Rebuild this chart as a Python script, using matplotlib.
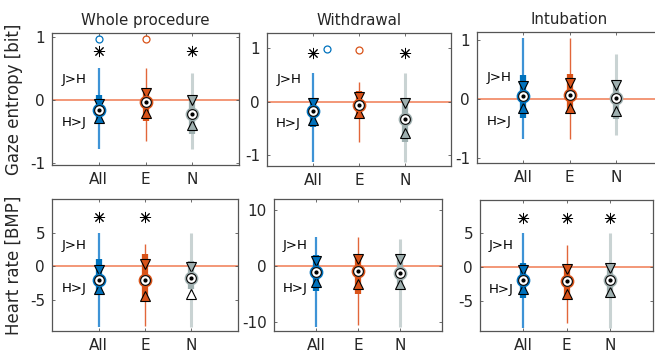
import matplotlib
matplotlib.use("Agg")
import matplotlib.pyplot as plt

# groups and colours
groups = ["All", "E", "N"]
box_col = ["#0072BD", "#D95319", "#9FB0B0"]
wsk_col = ["#3E93D6", "#E2663A", "#C9D3D3"]
wsk_lw = [1.6, 1.0, 2.2]

titles = ["Whole procedure", "Withdrawal", "Intubation"]
ylabels = ["Gaze entropy [bit]", "Heart rate [BMP]"]

# per panel: rows = All, E, N ; [whisker lo, q1, notch lo, median, notch hi, q3, whisker hi]
gaze_whole = [[-0.78, -0.38, -0.29, -0.15, -0.06, 0.08, 0.51],
              [-0.65, -0.33, -0.20, -0.03, 0.11, 0.19, 0.51],
              [-0.78, -0.54, -0.40, -0.22, 0.00, 0.06, 0.43]]
gaze_withdraw = [[-1.12, -0.47, -0.34, -0.17, -0.03, 0.06, 0.53],
                 [-0.75, -0.31, -0.22, -0.06, 0.09, 0.19, 0.37],
                 [-1.12, -0.75, -0.59, -0.33, -0.03, 0.03, 0.53]]
gaze_intub = [[-0.67, -0.31, -0.14, 0.05, 0.22, 0.41, 1.04],
              [-0.67, -0.20, -0.14, 0.07, 0.28, 0.43, 1.04],
              [-0.60, -0.34, -0.20, 0.02, 0.25, 0.29, 0.76]]
hr_whole = [[-9.15, -4.3, -3.4, -2.15, -0.65, 1.1, 5.0],
            [-8.9, -5.3, -4.5, -2.05, 0.35, 1.75, 3.25],
            [-9.15, -3.4, -4.15, -1.8, -0.15, 0.7, 5.0]]
hr_withdraw = [[-10.9, -4.4, -2.75, -1.1, 0.85, 1.9, 5.2],
               [-10.6, -5.0, -3.2, -0.8, 1.3, 1.6, 5.2],
               [-10.9, -4.1, -3.2, -1.25, 1.2, 1.9, 4.8]]
hr_intub = [[-8.9, -4.6, -3.2, -1.97, -0.5, 0.64, 5.07],
            [-8.2, -4.8, -3.9, -2.1, -0.25, 0.35, 3.2],
            [-8.9, -4.2, -3.7, -1.87, -0.15, 0.35, 5.07]]

# outliers: (group index, x offset, value)
out_gaze_whole = [(0, 0.0, 0.97), (1, 0.0, 0.97)]
out_gaze_withdraw = [(0, 0.3, 0.98), (1, 0.0, 0.97)]
# significance stars: group indices and height
star_gaze_whole = ([0, 2], 0.78)
star_gaze_withdraw = ([0, 2], 0.90)
star_hr_whole = ([0, 1], 7.35)
star_hr_intub = ([0, 1, 2], 7.25)

panels = [
    dict(data=gaze_whole, ylim=(-1.03, 1.07), ticks=[-1, 0, 1], out=out_gaze_whole, star=star_gaze_whole),
    dict(data=gaze_withdraw, ylim=(-1.2, 1.28), ticks=[-1, 0, 1], out=out_gaze_withdraw, star=star_gaze_withdraw),
    dict(data=gaze_intub, ylim=(-1.08, 1.14), ticks=[-1, 0, 1], out=[], star=None),
    dict(data=hr_whole, ylim=(-9.7, 10), ticks=[-5, 0, 5], out=[], star=star_hr_whole),
    dict(data=hr_withdraw, ylim=(-11.6, 12), ticks=[-10, 0, 10], out=[], star=None),
    dict(data=hr_intub, ylim=(-9.4, 9.85), ticks=[-5, 0, 5], out=[], star=star_hr_intub),
]

# axes rectangles in pixels (x0, x1, ytop, ybottom)
rects = [(52, 239, 33, 165), (267, 451, 33, 166), (477, 662, 32, 163),
         (52, 238, 199, 331), (274, 442, 199, 331), (480, 653, 200, 331)]

W, H = 655, 358
plt.rcParams['font.family'] = 'DejaVu Sans'
plt.rcParams['axes.unicode_minus'] = False
fig = plt.figure(figsize=(W / 100, H / 100), dpi=100)
txt = "#262626"

for k, (p, r) in enumerate(zip(panels, rects)):
    x0, x1, yt, yb = r
    ax = fig.add_axes([x0 / W, 1 - yb / H, (x1 - x0) / W, (yb - yt) / H])
    ax.axhline(0, color="#F07A52", lw=1.1, zorder=1)
    for i, row in enumerate(p["data"]):
        wl, q1, nl, med, nh, q3, wh = row
        x = i + 1
        ax.plot([x, x], [wl, wh], color=wsk_col[i], lw=wsk_lw[i], zorder=2, solid_capstyle="butt")
        ax.plot([x, x], [q1, q3], color=box_col[i], lw=4.5, zorder=3, solid_capstyle="butt")
        fc_hi = box_col[i] if q1 <= nh <= q3 else "white"
        fc_lo = box_col[i] if q1 <= nl <= q3 else "white"
        ax.plot(x, nh, marker="v", ms=7.5, mfc=fc_hi, mec="black", mew=0.8, zorder=4)
        ax.plot(x, nl, marker="^", ms=7.5, mfc=fc_lo, mec="black", mew=0.8, zorder=4)
        ax.plot(x, med, marker="o", ms=8.5, mfc="white", mec=box_col[i], mew=1.4, zorder=5)
        ax.plot(x, med, marker="o", ms=7, mfc="white", mec="black", mew=0.8, zorder=6)
        ax.plot(x, med, marker="o", ms=2, mfc="black", mec="black", zorder=7)
    for gi, dx, v in p["out"]:
        ax.plot(gi + 1 + dx, v, marker="o", ms=5, mfc="none", mec=box_col[gi], mew=0.9, zorder=4)
    if p["star"] is not None:
        idx, h = p["star"]
        for gi in idx:
            ax.plot(gi + 1, h, marker=(8, 2, 0), ms=8, color="black", mew=0.7, zorder=4)
    ax.text(0.05, 0.65, "J>H", transform=ax.transAxes, fontsize=9.5, va="center", ha="left", color="black")
    ax.text(0.05, 0.32, "H>J", transform=ax.transAxes, fontsize=9.5, va="center", ha="left", color="black")
    ax.set_xlim(0, 4)
    ax.set_ylim(*p["ylim"])
    ax.set_xticks([1, 2, 3])
    ax.set_xticklabels(groups)
    ax.set_yticks(p["ticks"])
    ax.tick_params(direction="in", length=2.5, width=0.6, labelsize=11, colors="#555555",
                   labelcolor=txt, right=True, top=True, pad=5)
    for s in ax.spines.values():
        s.set_color("#555555")
        s.set_linewidth(0.9)
    if k < 3:
        ax.set_title(titles[k], fontsize=10.8, color=txt, pad=6)
    if k % 3 == 0:
        ax.set_ylabel(ylabels[k // 3], fontsize=12, color=txt)
        ax.yaxis.set_label_coords(-0.155, 0.5)

fig.savefig("out.png", dpi=100)
